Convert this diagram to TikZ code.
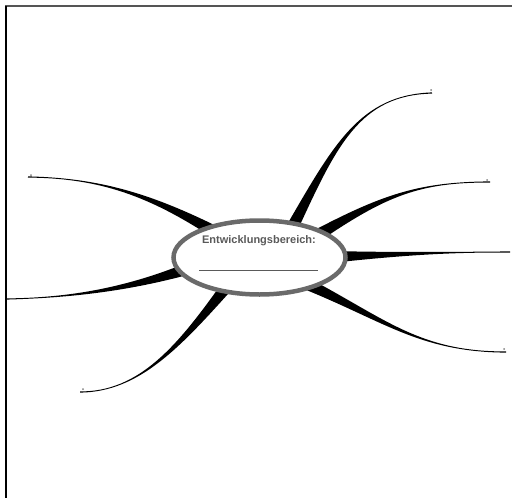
\documentclass[tikz,border=0pt]{standalone}
\usepackage{fontspec}
\setmainfont{Liberation Sans}
\usetikzlibrary{calc,shapes.geometric}
\definecolor{framegray}{HTML}{555555}
\definecolor{ringgray}{HTML}{6A6A6A}
\definecolor{textgray}{HTML}{5A5A5A}
\newcommand\mybranch[5]{%
  % #1 base, #2 control1, #3 control2, #4 tip, #5 name prefix
  \coordinate (#5a) at #1;
  \coordinate (#5c) at #2;
  \coordinate (#5d) at #3;
  \coordinate (#5b) at #4;
  \fill[branchfill]
    ($(#5a)!6pt!90:(#5c)$) .. controls ($(#5c)!1.5pt!-90:(#5a)$) and (#5d) .. ($(#5b)!0.6pt!-90:(#5d)$)
    -- ($(#5b)!0.6pt!90:(#5d)$) .. controls (#5d) and ($(#5c)!1.5pt!90:(#5a)$) .. ($(#5a)!6pt!-90:(#5c)$) -- cycle;
}
\begin{document}
\begin{tikzpicture}[x=1pt,y=-1pt,
  branchfill/.style={fill=black},
  framestyle/.style={line width=2pt},
  tipdot/.style={circle,fill=gray,inner sep=0pt,minimum size=2pt},
  centre/.style={ellipse,draw=ringgray,line width=4.5pt,fill=white,minimum width=172pt,minimum height=74pt,inner sep=0pt}]
\useasboundingbox (0,0) rectangle (512,498);
\draw[framestyle,draw=framegray] (5,6) -- (512,6);
\draw[framestyle,draw=black] (6,6) -- (6,498);
% branches
\mybranch{(292,228)}{(335,145)}{(360,95)}{(432,93)}{b1}
\mybranch{(318,235)}{(385,195)}{(420,182)}{(490,182)}{b2}
\mybranch{(330,257)}{(400,254)}{(450,252)}{(510,252)}{b3}
\mybranch{(305,283)}{(385,320)}{(420,352)}{(506,352)}{b4}
\mybranch{(215,232)}{(150,195)}{(100,178)}{(28,177)}{b5}
\mybranch{(190,268)}{(120,292)}{(60,298)}{(6,299)}{b6}
\mybranch{(228,285)}{(180,345)}{(140,392)}{(80,392)}{b7}
% centre
\node[centre] (c) at (259.5,257.5) {};
\node[text=textgray,font=\bfseries\fontsize{11}{13}\selectfont,inner sep=0pt] (t) at (259,241) {Entwicklungsbereich:};
\coordinate (u1) at (199,270);
\coordinate (u2) at (318,270);
\draw[textgray,line width=1pt] (u1) -- (u2);
% tip dots
\node[tipdot] (d1) at (431,90) {};
\node[tipdot] (d2) at (487,180) {};
\node[tipdot] (d4) at (504,349) {};
\node[tipdot] (d5) at (31,175) {};
\node[tipdot] (d7) at (83,389) {};
\end{tikzpicture}
\end{document}
